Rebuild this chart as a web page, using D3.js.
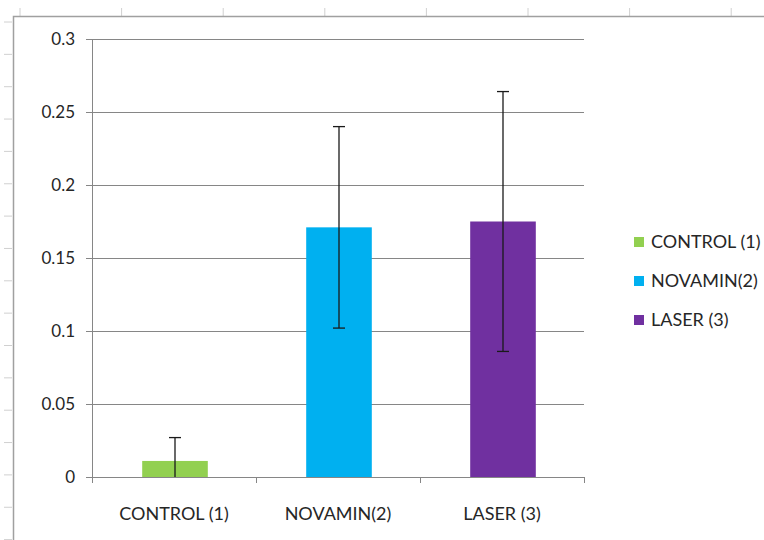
<!DOCTYPE html>
<html>
<head>
<meta charset="utf-8">
<script src="https://cdn.jsdelivr.net/npm/d3@7"></script>
<style>
  body { margin: 0; background: #fff; }
  text { font-family: Lato, "Open Sans", sans-serif; fill: #262626; }
</style>
</head>
<body>
<div id="chart"></div>
<script>
const categories = ["CONTROL (1)", "NOVAMIN(2)", "LASER (3)"];
const values = [0.011, 0.171, 0.175];
const errors = [0.016, 0.069, 0.089];
const colors = ["#92D050", "#00B0F0", "#7030A0"];
const yTicks = [0, 0.05, 0.1, 0.15, 0.2, 0.25, 0.3];

window.onload = function () {
  const W = 764, H = 540;
  const margin = { top: 39, left: 92 };
  const width = 492;
  const height = 438;

  const root = d3
    .select("#chart")
    .append("svg")
    .attr("width", W)
    .attr("height", H);

  // sheet ruler marks and chart frame behind the chart
  const rulerX = d3.range(20, W, 101.6);
  const rulerY = d3.range(22, H, 32.35);
  root.selectAll(".rx").data(rulerX).enter().append("line")
    .attr("x1", (d) => d).attr("x2", (d) => d)
    .attr("y1", 8).attr("y2", 16)
    .style("stroke", "#d0d0d0");
  root.selectAll(".ry").data(rulerY).enter().append("line")
    .attr("x1", 4).attr("x2", 12)
    .attr("y1", (d) => d).attr("y2", (d) => d)
    .style("stroke", "#d0d0d0");
  root.append("path")
    .attr("d", `M13.5,${H} V16.5 H${W}`)
    .style("fill", "none")
    .style("stroke", "#a0a0a0")
    .style("stroke-width", 1.5);

  const svg = root.append("g")
    .attr("transform", `translate(${margin.left},${margin.top})`);

  const x = d3.scaleBand().domain(categories).range([0, width]).paddingInner(0.6).paddingOuter(0.3);
  const xt = d3.scaleBand().domain(categories).range([0, width]);
  const y = d3.scaleLinear().domain([0, 0.3]).range([height, 0]);

  const rows = categories.map((c, i) => ({ cat: c, v: values[i], e: errors[i], color: colors[i] }));

  // gridlines
  svg.append("g")
    .selectAll("line")
    .data(yTicks)
    .enter()
    .append("line")
    .attr("x1", -6)
    .attr("x2", width)
    .attr("y1", (d) => Math.round(y(d)) + 0.5)
    .attr("y2", (d) => Math.round(y(d)) + 0.5)
    .style("stroke", "#868686");

  // y axis line
  svg.append("line")
    .attr("x1", 0.5).attr("x2", 0.5)
    .attr("y1", 0).attr("y2", height)
    .style("stroke", "#868686");

  // y labels
  svg.append("g")
    .selectAll("text")
    .data(yTicks)
    .enter()
    .append("text")
    .attr("x", -17)
    .attr("y", (d) => y(d))
    .attr("dy", "0.35em")
    .attr("text-anchor", "end")
    .style("font-size", "17px")
    .text((d) => d3.format("~g")(d));

  // bars
  svg.selectAll(".bar")
    .data(rows)
    .enter()
    .append("rect")
    .attr("class", "bar")
    .attr("x", (d) => x(d.cat) + 1)
    .attr("width", x.bandwidth())
    .attr("y", (d) => y(d.v))
    .attr("height", (d) => height - y(d.v))
    .style("fill", (d) => d.color);

  // x axis
  svg.append("line")
    .attr("x1", 0).attr("x2", width)
    .attr("y1", height + 0.5).attr("y2", height + 0.5)
    .style("stroke", "#868686");
  const xTickPos = categories.map((c) => xt(c)).concat([width]);
  svg.selectAll(".xtick")
    .data(xTickPos)
    .enter()
    .append("line")
    .attr("x1", (d) => Math.round(d) + 0.5)
    .attr("x2", (d) => Math.round(d) + 0.5)
    .attr("y1", height)
    .attr("y2", height + 6)
    .style("stroke", "#868686");
  svg.selectAll(".xlab")
    .data(categories)
    .enter()
    .append("text")
    .attr("x", (d) => xt(d) + xt.bandwidth() / 2)
    .attr("y", height + 43)
    .attr("text-anchor", "middle")
    .style("font-size", "18px")
    .text((d) => d);

  // error bars
  const cx = (d) => x(d.cat) + 1 + x.bandwidth() / 2;
  const eb = svg.selectAll(".err")
    .data(rows)
    .enter()
    .append("g")
    .style("stroke", "#1a1a1a")
    .style("stroke-width", 1.3);
  eb.append("line")
    .attr("x1", cx).attr("x2", cx)
    .attr("y1", (d) => y(d.v + d.e))
    .attr("y2", (d) => y(Math.max(0, d.v - d.e)));
  eb.append("line")
    .attr("x1", (d) => cx(d) - 6).attr("x2", (d) => cx(d) + 6)
    .attr("y1", (d) => y(d.v + d.e))
    .attr("y2", (d) => y(d.v + d.e));
  eb.filter((d) => d.v - d.e > 0)
    .append("line")
    .attr("x1", (d) => cx(d) - 6).attr("x2", (d) => cx(d) + 6)
    .attr("y1", (d) => y(d.v - d.e))
    .attr("y2", (d) => y(d.v - d.e));

  // legend
  const legend = root.append("g").attr("transform", "translate(634,242)");
  const li = legend.selectAll(".li")
    .data(rows)
    .enter()
    .append("g")
    .attr("transform", (d, i) => `translate(0,${i * 39})`);
  li.append("rect")
    .attr("x", 0).attr("y", -5)
    .attr("width", 10).attr("height", 10)
    .style("fill", (d) => d.color);
  li.append("text")
    .attr("x", 17)
    .attr("y", 0)
    .attr("dy", "0.35em")
    .style("font-size", "18px")
    .text((d) => d.cat);
};
</script>
</body>
</html>
